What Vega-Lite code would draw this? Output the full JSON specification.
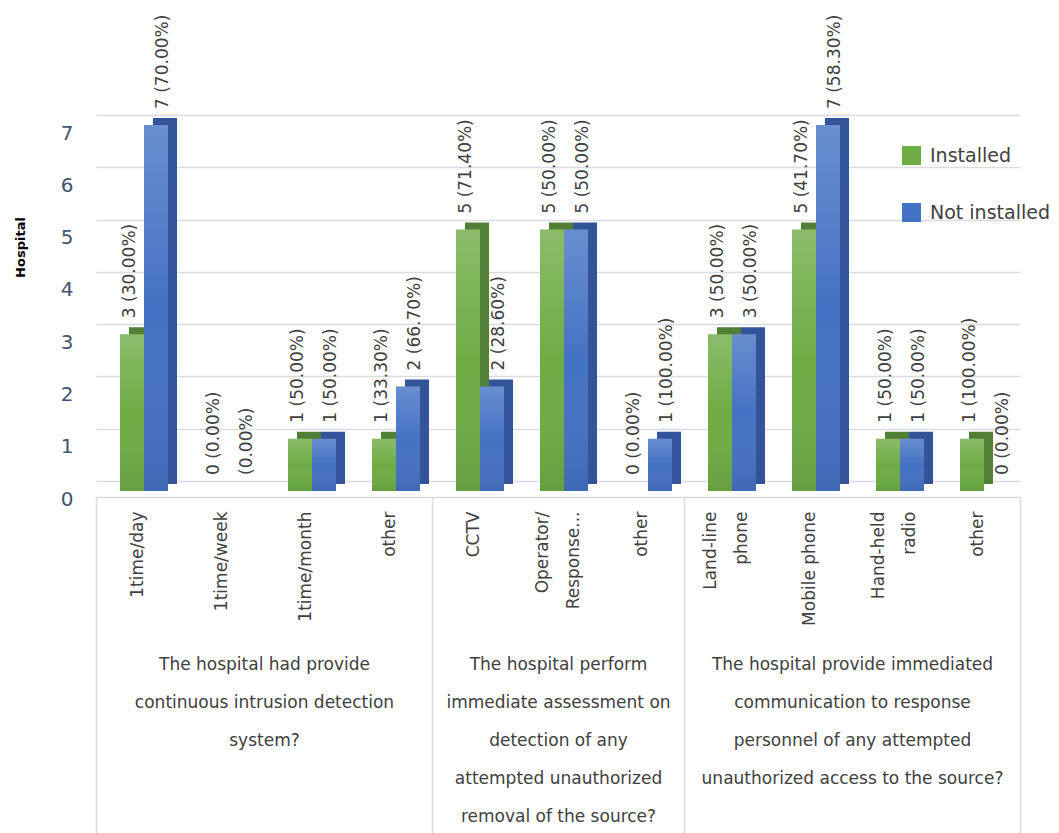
{
  "$schema": "https://vega.github.io/schema/vega-lite/v6.json",
  "width": 924,
  "height": 366,
  "autosize": {"type": "none"},
  "padding": {"left": 96, "top": 125, "right": 39, "bottom": 342},
  "background": "white",
  "config": {
    "font": "DejaVu Sans",
    "view": {"stroke": null}
  },
  "datasets": {
    "bars": [
      {"cat": "1time/day", "series": "Installed", "value": 3, "label": "3 (30.00%)"},
      {"cat": "1time/day", "series": "Not installed", "value": 7, "label": "7 (70.00%)"},
      {"cat": "1time/week", "series": "Installed", "value": 0, "label": "0 (0.00%)"},
      {"cat": "1time/week", "series": "Not installed", "value": 0, "label": "(0.00%)"},
      {"cat": "1time/month", "series": "Installed", "value": 1, "label": "1 (50.00%)"},
      {"cat": "1time/month", "series": "Not installed", "value": 1, "label": "1 (50.00%)"},
      {"cat": "other#1", "series": "Installed", "value": 1, "label": "1 (33.30%)"},
      {"cat": "other#1", "series": "Not installed", "value": 2, "label": "2 (66.70%)"},
      {"cat": "CCTV", "series": "Installed", "value": 5, "label": "5 (71.40%)"},
      {"cat": "CCTV", "series": "Not installed", "value": 2, "label": "2 (28.60%)"},
      {"cat": "Operator/|Response...", "series": "Installed", "value": 5, "label": "5 (50.00%)"},
      {"cat": "Operator/|Response...", "series": "Not installed", "value": 5, "label": "5 (50.00%)"},
      {"cat": "other#2", "series": "Installed", "value": 0, "label": "0 (0.00%)"},
      {"cat": "other#2", "series": "Not installed", "value": 1, "label": "1 (100.00%)"},
      {"cat": "Land-line|phone", "series": "Installed", "value": 3, "label": "3 (50.00%)"},
      {"cat": "Land-line|phone", "series": "Not installed", "value": 3, "label": "3 (50.00%)"},
      {"cat": "Mobile phone", "series": "Installed", "value": 5, "label": "5 (41.70%)"},
      {"cat": "Mobile phone", "series": "Not installed", "value": 7, "label": "7 (58.30%)"},
      {"cat": "Hand-held|radio", "series": "Installed", "value": 1, "label": "1 (50.00%)"},
      {"cat": "Hand-held|radio", "series": "Not installed", "value": 1, "label": "1 (50.00%)"},
      {"cat": "other#3", "series": "Installed", "value": 1, "label": "1 (100.00%)"},
      {"cat": "other#3", "series": "Not installed", "value": 0, "label": "0 (0.00%)"}
    ],
    "groups": [
      {"group": "The hospital had provide|continuous intrusion detection|system?"},
      {"group": "The hospital perform|immediate assessment on|detection of any|attempted unauthorized|removal of the source?"},
      {"group": "The hospital provide immediated|communication to response|personnel of any attempted|unauthorized access to the source?"}
    ]
  },
  "layer": [
    {
      "data": {"name": "bars"},
      "resolve": {"scale": {"xOffset": "independent"}},
      "layer": [
        {
          "mark": {"type": "bar", "yOffset": -7},
          "encoding": {
            "x": {
              "field": "cat", "type": "nominal", "sort": null,
              "scale": {"paddingInner": 0, "paddingOuter": 0},
              "axis": {
                "title": null,
                "orient": "bottom",
                "offset": 6,
                "domainColor": "#d9dce1",
                "domainWidth": 1.5,
                "bandPosition": 1,
                "tickExtra": true,
                "tickSize": 336,
                "tickWidth": 1.5,
                "tickColor": {
                  "condition": {"test": "datum.extra || indexof(['other#1','other#2','other#3'], datum.value) >= 0", "value": "#d9dce1"},
                  "value": "rgba(0,0,0,0)"
                },
                "labelAngle": -90,
                "labelPadding": -322,
                "labelOffset": {
                  "condition": {"test": "isString(datum.value) && indexof(datum.value, '|') >= 0", "value": -15},
                  "value": 0
                },
                "labelFontSize": 17,
                "labelColor": "#404040",
                "labelLineHeight": 31,
                "labelLimit": 300,
                "labelOverlap": false,
                "labelExpr": "isString(datum.value) ? split(split(datum.value, '#')[0], '|') : ''"
              }
            },
            "xOffset": {
              "field": "series", "type": "nominal", "sort": null,
              "scale": {"paddingInner": 0, "paddingOuter": 0.75, "align": 0.9167}
            },
            "y": {
              "field": "value", "type": "quantitative",
              "scale": {"domain": [0, 7], "nice": false},
              "axis": {
                "title": "Hospital",
                "titleFontSize": 13,
                "titleFontWeight": "bold",
                "titleColor": "#000000",
                "titleX": -76,
                "titleY": 122,
                "titleBaseline": "middle",
                "values": [0, 1, 2, 3, 4, 5, 6, 7],
                "format": "d",
                "domain": false,
                "ticks": false,
                "grid": true,
                "gridColor": "#d9dce1",
                "gridWidth": 1.5,
                "tickOffset": -10,
                "labelOffset": 18,
                "labelPadding": 23,
                "labelFontSize": 20,
                "labelColor": "#44546A"
              }
            },
            "color": {
              "condition": {"test": "datum.series === 'Installed'", "value": "#507f35"},
              "value": "#33549a"
            }
          }
        },
        {
          "mark": {"type": "bar"},
          "encoding": {
            "x": {"field": "cat", "type": "nominal", "sort": null},
            "xOffset": {
              "field": "series", "type": "nominal", "sort": null,
              "scale": {"paddingInner": 0, "paddingOuter": 0.75, "align": 0.6667}
            },
            "y": {"field": "value", "type": "quantitative"},
            "color": {
              "field": "series", "type": "nominal",
              "scale": {"domain": ["Installed", "Not installed"], "range": ["#6eac45", "#4472C4"]},
              "legend": {
                "title": null,
                "orient": "none",
                "direction": "vertical",
                "legendX": 806,
                "legendY": 21,
                "padding": 0,
                "symbolType": "square",
                "symbolSize": 361,
                "symbolStrokeWidth": 0,
                "labelFontSize": 19,
                "labelColor": "#404040",
                "labelOffset": 9,
                "rowPadding": 37
              }
            }
          }
        },
        {
          "mark": {
            "type": "bar",
            "fill": {
              "gradient": "linear", "x1": 0, "y1": 0, "x2": 0, "y2": 1,
              "stops": [
                {"offset": 0, "color": "rgba(255,255,255,0.2)"},
                {"offset": 0.5, "color": "rgba(255,255,255,0)"},
                {"offset": 1, "color": "rgba(0,0,0,0.08)"}
              ]
            }
          },
          "encoding": {
            "x": {"field": "cat", "type": "nominal", "sort": null},
            "xOffset": {
              "field": "series", "type": "nominal", "sort": null,
              "scale": {"paddingInner": 0, "paddingOuter": 0.75, "align": 0.6667}
            },
            "y": {"field": "value", "type": "quantitative"}
          }
        },
        {
          "mark": {
            "type": "text", "angle": 270, "align": "left", "baseline": "middle",
            "dx": 16, "fontSize": 17, "color": "#404040"
          },
          "encoding": {
            "x": {"field": "cat", "type": "nominal", "sort": null},
            "xOffset": {
              "field": "series", "type": "nominal", "sort": null,
              "scale": {"paddingInner": 0, "paddingOuter": 0.75, "align": 0.6667}
            },
            "y": {"field": "value", "type": "quantitative"},
            "text": {"field": "label", "type": "nominal"}
          }
        }
      ]
    },
    {
      "data": {"name": "groups"},
      "mark": {"type": "point", "opacity": 0},
      "encoding": {
        "x": {
          "field": "group", "type": "nominal", "sort": null,
          "scale": {"type": "point", "padding": 0.5714},
          "axis": {
            "title": null,
            "orient": "bottom",
            "offset": 165,
            "domain": false,
            "ticks": false,
            "labelAngle": 0,
            "labelPadding": 0,
            "labelAlign": "center",
            "labelBaseline": "top",
            "labelFontSize": 17,
            "labelColor": "#404040",
            "labelLineHeight": 38,
            "labelLimit": 400,
            "labelOverlap": false,
            "labelExpr": "split(datum.value, '|')"
          }
        }
      }
    }
  ],
  "resolve": {"scale": {"x": "independent"}}
}
